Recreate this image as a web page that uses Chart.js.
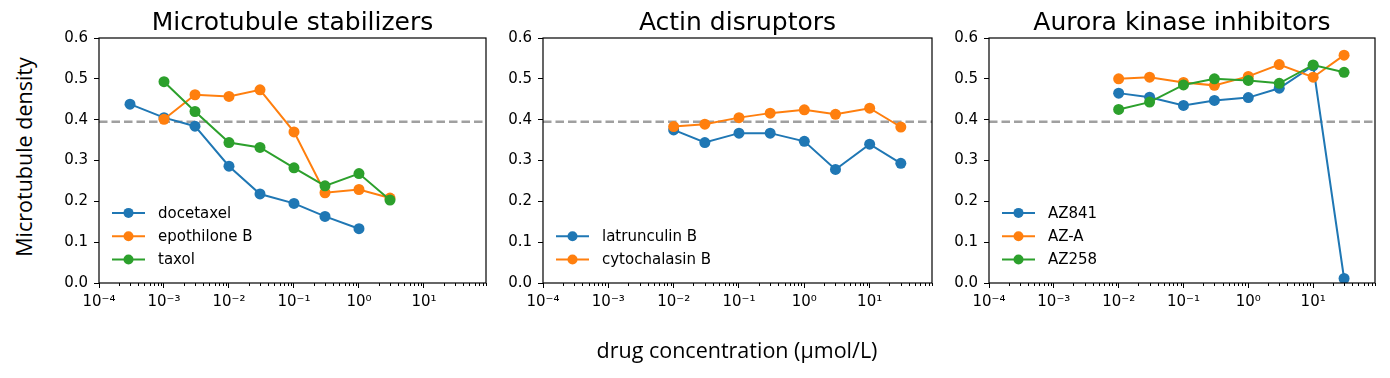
<!DOCTYPE html>
<html>
<head>
<meta charset="utf-8">
<script src="https://cdn.jsdelivr.net/npm/chart.js@4"></script>
<style>
  body { margin: 0; background: #fff; }
  #wrap { position: relative; width: 1390px; height: 378px; overflow: hidden; }
  canvas { position: absolute; top: 0; }
  .lbl { position: absolute; font-family: "Open Sans", Lato, sans-serif; font-size: 21.5px; color: #000; text-align: center; line-height: 24px; white-space: nowrap; }
</style>
</head>
<body>
<div id="wrap">
  <canvas id="c1" width="457" height="340" style="left:39px"></canvas>
  <canvas id="c2" width="459" height="340" style="left:483px"></canvas>
  <canvas id="c3" width="456" height="340" style="left:929px"></canvas>
  <div class="lbl" style="left:-126px; top:145px; width:300px; transform:rotate(-90deg);">Microtubule density</div>
  <div class="lbl" style="left:437px; top:338px; width:600px;">drug concentration (µmol/L)</div>
</div>
<script>
// Concentrations (µmol/L)
const concStabilizers = [0.001, 0.003, 0.01, 0.03, 0.1, 0.3, 1, 3];
const concDocetaxel = [0.0003, 0.001, 0.003, 0.01, 0.03, 0.1, 0.3, 1];
const concHigh = [0.01, 0.03, 0.1, 0.3, 1, 3, 10, 30];

// Microtubule density values
const docetaxel = [0.438, 0.405, 0.384, 0.286, 0.218, 0.195, 0.163, 0.133];
const epothiloneB = [0.401, 0.461, 0.457, 0.473, 0.370, 0.221, 0.229, 0.208];
const taxol = [0.493, 0.420, 0.344, 0.332, 0.282, 0.238, 0.268, 0.203];

const latrunculinB = [0.375, 0.344, 0.367, 0.367, 0.347, 0.278, 0.340, 0.293];
const cytochalasinB = [0.383, 0.389, 0.405, 0.416, 0.424, 0.413, 0.428, 0.382];

const az841 = [0.465, 0.455, 0.435, 0.447, 0.454, 0.477, 0.532, 0.011];
const azA = [0.500, 0.504, 0.491, 0.484, 0.506, 0.535, 0.504, 0.558];
const az258 = [0.425, 0.443, 0.485, 0.500, 0.496, 0.489, 0.534, 0.516];

const baselineDensity = 0.395;

// Axis ticks
const xRange = [1e-4, 90];
const xTickValues = [1e-4, 1e-3, 1e-2, 1e-1, 1, 10];
const xTickLabels = ['10\u207B\u2074', '10\u207B\u00B3', '10\u207B\u00B2', '10\u207B\u00B9', '10\u2070', '10\u00B9'];
const yTickValues = [0, 0.1, 0.2, 0.3, 0.4, 0.5, 0.6];

const colors = ['#1f77b4', '#ff7f0e', '#2ca02c'];
const tickFont = { family: 'DejaVu Sans', size: 15 };

function toPoints(xs, ys) {
    return xs.map((x, i) => ({ x: x, y: ys[i] }));
}

function series(label, xs, ys, idx) {
    return {
        label: label,
        data: toPoints(xs, ys),
        borderColor: colors[idx],
        backgroundColor: colors[idx],
        borderWidth: 2,
        pointRadius: 5.5,
        pointBorderWidth: 0,
        pointHoverRadius: 5.5,
        tension: 0,
        order: 10 - idx
    };
}

function baselineSet() {
    return {
        label: '',
        isBaseline: true,
        data: toPoints(xRange, [baselineDensity, baselineDensity]),
        borderColor: '#a0a0a0',
        borderWidth: 2.6,
        borderDash: [8.5, 4],
        pointRadius: 0,
        order: 100
    };
}

// Title, frame, minor ticks and legend drawn inside the axes
const panelDecor = {
    id: 'panelDecor',
    afterDraw(chart) {
        const ctx = chart.ctx;
        const a = chart.chartArea;
        const xs = chart.scales.x;
        ctx.save();
        // minor ticks
        ctx.strokeStyle = '#000';
        ctx.lineWidth = 1;
        for (let d = -4; d <= 1; d++) {
            for (let k = 2; k <= 9; k++) {
                const v = k * Math.pow(10, d);
                if (v > xRange[1]) continue;
                const px = Math.round(xs.getPixelForValue(v)) + 0.5;
                ctx.beginPath();
                ctx.moveTo(px, a.bottom);
                ctx.lineTo(px, a.bottom + 3);
                ctx.stroke();
            }
        }
        // frame
        ctx.lineWidth = 1.2;
        ctx.strokeRect(a.left, a.top, a.right - a.left, a.bottom - a.top);
        // title
        ctx.fillStyle = '#000';
        ctx.font = '25px "DejaVu Sans"';
        ctx.textAlign = 'center';
        ctx.textBaseline = 'alphabetic';
        ctx.fillText(chart.options.panelTitle, (a.left + a.right) / 2, 29.5);
        // legend, lower left
        const items = chart.data.datasets.filter(ds => !ds.isBaseline);
        const rowH = 23.3;
        ctx.font = '15px "DejaVu Sans"';
        ctx.textAlign = 'left';
        ctx.textBaseline = 'middle';
        items.forEach((ds, i) => {
            const y = a.bottom - 23.5 - (items.length - 1 - i) * rowH;
            const x0 = a.left + 13;
            ctx.strokeStyle = ds.borderColor;
            ctx.lineWidth = 2;
            ctx.beginPath();
            ctx.moveTo(x0, y);
            ctx.lineTo(x0 + 33, y);
            ctx.stroke();
            ctx.fillStyle = ds.borderColor;
            ctx.beginPath();
            ctx.arc(x0 + 16.5, y, 5, 0, Math.PI * 2);
            ctx.fill();
            ctx.fillStyle = '#000';
            ctx.fillText(ds.label, x0 + 46, y + 1);
        });
        ctx.restore();
    }
};

function makeChart(id, title, datasets) {
    return new Chart(document.getElementById(id), {
        type: 'line',
        data: { datasets: [baselineSet()].concat(datasets) },
        options: {
            responsive: false,
            animation: false,
            panelTitle: title,
            layout: { padding: { top: 38, right: 10, left: 0, bottom: 0 } },
            plugins: {
                legend: { display: false },
                title: { display: false },
                tooltip: { enabled: false }
            },
            scales: {
                x: {
                    type: 'logarithmic',
                    min: xRange[0],
                    max: xRange[1],
                    bounds: 'data',
                    afterBuildTicks: (scale) => {
                        scale.ticks = xTickValues.map(v => ({ value: v, major: true }));
                    },
                    afterFit: (scale) => { scale.height = 57; },
                    border: { display: false },
                    grid: { drawOnChartArea: false, drawTicks: true, tickLength: 5, tickColor: '#000', lineWidth: 1 },
                    ticks: {
                        autoSkip: false,
                        maxRotation: 0,
                        padding: 5,
                        color: '#000',
                        font: tickFont,
                        callback: (v) => {
                            const i = xTickValues.findIndex(t => Math.abs(Math.log10(t) - Math.log10(v)) < 1e-6);
                            return i >= 0 ? xTickLabels[i] : '';
                        }
                    }
                },
                y: {
                    type: 'linear',
                    min: 0,
                    max: 0.6,
                    afterBuildTicks: (scale) => {
                        scale.ticks = yTickValues.map(v => ({ value: v }));
                    },
                    afterFit: (scale) => { scale.width = 60; },
                    border: { display: false },
                    grid: { drawOnChartArea: false, drawTicks: true, tickLength: 5, tickColor: '#000', lineWidth: 1 },
                    ticks: {
                        padding: 6,
                        color: '#000',
                        font: tickFont,
                        callback: (v) => v.toFixed(1)
                    }
                }
            }
        },
        plugins: [panelDecor]
    });
}

makeChart('c1', 'Microtubule stabilizers', [
    series('docetaxel', concDocetaxel, docetaxel, 0),
    series('epothilone B', concStabilizers, epothiloneB, 1),
    series('taxol', concStabilizers, taxol, 2)
]);
makeChart('c2', 'Actin disruptors', [
    series('latrunculin B', concHigh, latrunculinB, 0),
    series('cytochalasin B', concHigh, cytochalasinB, 1)
]);
makeChart('c3', 'Aurora kinase inhibitors', [
    series('AZ841', concHigh, az841, 0),
    series('AZ-A', concHigh, azA, 1),
    series('AZ258', concHigh, az258, 2)
]);
</script>
</body>
</html>
